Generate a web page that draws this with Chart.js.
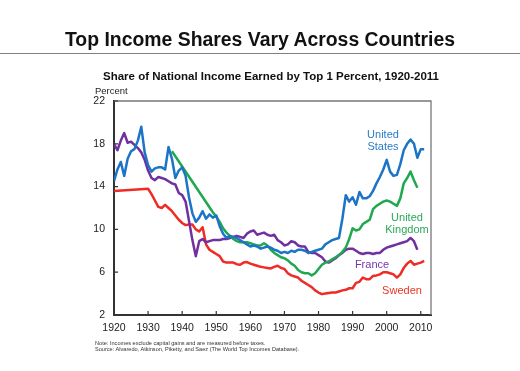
<!DOCTYPE html>
<html>
<head>
<meta charset="utf-8">
<script src="https://cdn.jsdelivr.net/npm/chart.js@4.4.1/dist/chart.umd.min.js"></script>
<style>
    html, body { margin: 0; padding: 0; background: #fff; }
    body { width: 520px; height: 371px; position: relative; overflow: hidden; font-family: "Liberation Sans", Arial, sans-serif; }
    #chart-box { position: absolute; left: 0; top: 0; width: 520px; height: 371px; }
    .txt { position: absolute; white-space: nowrap; line-height: 1; }
    #main-title { left: 0; width: 520px; top: 30px; text-align: center; font-size: 19.4px; font-weight: bold; color: #111; }
    #rule { position: absolute; left: 0; width: 520px; top: 53px; height: 0; border-top: 1.5px solid #808080; }
    #sub-title { left: 0; width: 542px; top: 71px; text-align: center; font-size: 11.5px; font-weight: bold; color: #111; }
    #unit { left: 95px; top: 86px; font-size: 9.5px; color: #222; }
    .note { left: 95px; font-size: 5.6px; color: #333; }
    .lbl { font-size: 11px; text-align: center; width: 90px; line-height: 11.5px; }
</style>
</head>
<body>
<div id="chart-box"><canvas id="income-chart" width="520" height="371"></canvas></div>
<div class="txt" id="main-title">Top Income Shares Vary Across Countries</div>
<div id="rule"></div>
<div class="txt" id="sub-title">Share of National Income Earned by Top 1 Percent, 1920-2011</div>
<div class="txt" id="unit">Percent</div>
<div class="txt note" style="top:341px">Note: Incomes exclude capital gains and are measured before taxes.</div>
<div class="txt note" style="top:347px">Source: Alvaredo, Atkinson, Piketty, and Saez (The World Top Incomes Database).</div>
<div class="txt lbl" style="left:338px; top:129px; color:#2a7cc8">United<br>States</div>
<div class="txt lbl" style="left:362px; top:212px; color:#2aa85a">United<br>Kingdom</div>
<div class="txt lbl" style="left:327px; top:259px; color:#7436a6">France</div>
<div class="txt lbl" style="left:357px; top:285px; color:#ee3326">Sweden</div>

<script>
const years = [];
for (let y = 1920; y <= 2011; y++) years.push(y);

// 1920 ... 2011, one value per year (null = no observation)
const unitedStates = [
    14.5, 15.6, 16.3, 15.0, 16.6, 17.3, 17.5, 18.3, 19.6, 17.2,
    16.0, 15.4, 15.7, 15.8, 15.8, 15.6, 17.7, 16.6, 14.8, 15.5,
    15.8, 15.0, 13.0, 11.5, 10.7, 11.1, 11.7, 11.0, 11.4, 11.1,
    11.3, 10.3, 9.6, 9.2, 9.4, 9.3, 9.2, 9.0, 8.8, 8.6,
    8.4, 8.5, 8.4, 8.2, 8.3, 8.4, 8.3, 8.1, 8.0, 7.8,
    7.9, 7.8, 8.0, 7.9, 8.1, 8.1, 8.0, 7.8, 7.9, 8.0,
    8.1, 8.2, 8.6, 8.8, 9.0, 9.1, 9.2, 11.0, 13.2, 12.6,
    13.0, 12.3, 13.5, 12.9, 12.9, 13.1, 13.6, 14.3, 14.9, 15.6,
    16.5, 15.4, 15.0, 15.1, 16.1, 17.4, 18.0, 18.4, 18.0, 16.7,
    17.5, 17.5
];

const unitedKingdom = [
    null, null, null, null, null, null, null, null, null, null,
    null, null, null, null, null, null, null, 17.3, null, null,
    null, null, null, null, null, null, null, null, null, 11.6,
    11.2, 10.7, 10.1, 9.7, 9.4, 9.1, 8.9, 8.8, 8.8, 8.8,
    8.7, 8.6, 8.5, 8.5, 8.7, 8.5, 8.1, 7.8, 7.6, 7.4,
    7.3, 7.1, 6.8, 6.6, 6.2, 6.0, 5.9, 5.9, 5.7, 5.9,
    6.3, 6.7, 6.9, 7.0, 7.2, 7.4, 7.6, 7.9, 8.3, 9.1,
    10.1, 9.9, 10.0, 10.5, 10.7, 10.9, 11.9, 12.2, 12.4, 12.6,
    12.7, 12.6, 12.4, 12.2, 12.9, 14.3, 14.8, 15.4, 14.6, 13.9,
    null, null
];

const france = [
    18.0, 17.4, 18.3, 19.0, 18.1, 18.2, 17.9, 17.6, 17.2, 16.5,
    15.5, 14.8, 14.6, 14.9, 14.8, 14.7, 14.5, 14.3, 14.2, 13.4,
    13.2, 12.6, 10.8, 9.0, 7.5, 8.9, 9.1, 8.8, 8.9, 9.0,
    9.0, 9.0, 9.1, 9.1, 9.2, 9.3, 9.4, 9.3, 9.2, 9.6,
    9.8, 9.9, 9.5, 9.6, 9.7, 9.5, 9.4, 9.5, 9.0, 8.8,
    8.5, 8.6, 8.9, 8.8, 8.5, 8.4, 8.4, 7.9, 7.8, 7.8,
    7.6, 7.4, 7.0, 6.9, 7.1, 7.3, 7.6, 7.8, 8.1, 8.2,
    8.2, 8.0, 7.8, 7.7, 7.8, 7.8, 7.7, 7.8, 7.8, 8.1,
    8.3, 8.4, 8.5, 8.6, 8.7, 8.8, 8.9, 9.2, 8.9, 8.1,
    null, null
];

const sweden = [
    13.6, null, null, null, null, null, null, null, null, null,
    13.8, 13.3, 12.7, 12.1, 12.0, 12.3, 12.0, 11.7, 11.3, 10.9,
    10.6, 10.4, 10.45, 10.45, 10.0, 9.8, 10.2, 8.6, 8.1, 7.9,
    7.7, 7.5, 7.0, 6.9, 6.9, 6.9, 6.75, 6.7, 6.9, 6.95,
    6.8, 6.7, 6.6, 6.5, 6.45, 6.4, 6.35, 6.5, 6.6, 6.4,
    6.3, 5.9, 5.7, 5.6, 5.5, 5.2, 5.0, 4.8, 4.6, 4.3,
    4.1, 3.95, 4.0, 4.05, 4.1, 4.1, 4.2, 4.3, 4.35, 4.5,
    4.5, 5.0, 5.1, 5.5, 5.35, 5.35, 5.65, 5.7, 5.8, 6.0,
    6.0, 5.9, 5.8, 5.5, 5.8, 6.4, 6.8, 7.05, 6.7, 6.8,
    6.9, 7.05
];

const yTicks = [2, 6, 10, 14, 18, 22];
const xTicks = [1920, 1930, 1940, 1950, 1960, 1970, 1980, 1990, 2000, 2010];

const fontFamily = '"Liberation Sans", Arial, sans-serif';

function toPoints(values) {
    return years.map((yr, i) => ({x: yr, y: values[i]}));
}

function makeSet(label, values, color) {
    return {
        label: label,
        data: toPoints(values),
        borderColor: color,
        backgroundColor: color,
        borderWidth: 2.5,
        pointRadius: 0,
        tension: 0,
        spanGaps: true,
        borderJoinStyle: 'round'
    };
}

// plot frame plus small inward tick marks
const frameTicks = {
    id: 'frameTicks',
    afterDraw(chart) {
        const ctx = chart.ctx;
        const area = chart.chartArea;
        const xs = chart.scales.x;
        const ys = chart.scales.y;
        ctx.save();
        ctx.strokeStyle = '#777';
        ctx.lineWidth = 1.3;
        ctx.beginPath();
        ctx.moveTo(area.left, area.top);
        ctx.lineTo(area.right, area.top);
        ctx.lineTo(area.right, area.bottom);
        ctx.stroke();

        ctx.strokeStyle = '#333';
        ctx.lineWidth = 1.2;
        ctx.beginPath();
        for (let t of xTicks) {
            const px = xs.getPixelForValue(t);
            ctx.moveTo(px, area.bottom);
            ctx.lineTo(px, area.bottom - 4);
        }
        for (let t of yTicks) {
            const py = ys.getPixelForValue(t);
            ctx.moveTo(area.left, py);
            ctx.lineTo(area.left + 4, py);
        }
        ctx.stroke();
        ctx.restore();
    }
};

new Chart(document.getElementById('income-chart'), {
    type: 'line',
    data: {
        datasets: [
            makeSet('United States', unitedStates, '#1b74c5'),
            makeSet('United Kingdom', unitedKingdom, '#1fa84f'),
            makeSet('France', france, '#7030a0'),
            makeSet('Sweden', sweden, '#ee2b24')
        ]
    },
    options: {
        responsive: false,
        animation: false,
        events: [],
        layout: {padding: {left: 84, right: 89, top: 101, bottom: 36}},
        plugins: {
            legend: {display: false},
            title: {display: false},
            tooltip: {enabled: false}
        },
        scales: {
            x: {
                type: 'linear',
                min: 1920,
                max: 2013,
                afterFit: s => { s.height = 20; },
                afterBuildTicks: s => { s.ticks = xTicks.map(v => ({value: v})); },
                grid: {display: false, drawTicks: false},
                border: {display: true, color: '#333', width: 2},
                ticks: {
                    padding: 7,
                    color: '#222',
                    font: {family: fontFamily, size: 10.5},
                    callback: v => String(v),
                    maxRotation: 0
                }
            },
            y: {
                min: 2,
                max: 22,
                afterFit: s => { s.width = 30; },
                afterBuildTicks: s => { s.ticks = yTicks.map(v => ({value: v})); },
                grid: {display: false, drawTicks: false},
                border: {display: true, color: '#333', width: 2},
                ticks: {
                    padding: 9,
                    color: '#222',
                    font: {family: fontFamily, size: 10.5},
                    callback: v => String(v)
                }
            }
        }
    },
    plugins: [frameTicks]
});
</script>
</body>
</html>
